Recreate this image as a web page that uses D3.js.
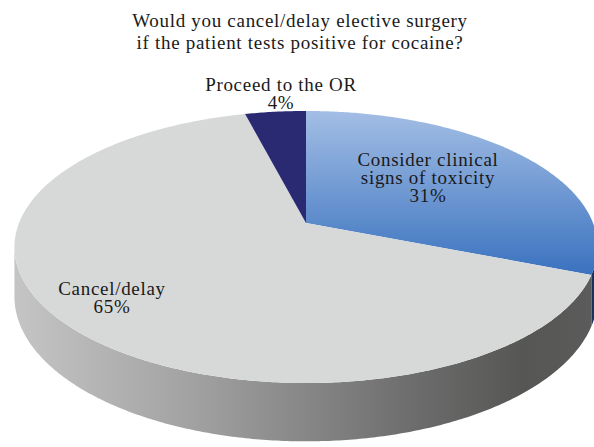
<!DOCTYPE html>
<html>
<head>
<meta charset="utf-8">
<script src="https://cdn.jsdelivr.net/npm/d3@7"></script>
<style>
  body { margin: 0; background: #fff; }
  text { font-family: "Liberation Serif", "DejaVu Serif", serif; fill: #1a1a1a; }
</style>
</head>
<body>
<svg id="chart"></svg>
<script>
// data
var categories = ['Consider clinical signs of toxicity', 'Cancel/delay', 'Proceed to the OR'];
var values = [31, 65, 4];
var labelLines = [
    ['Consider clinical', 'signs of toxicity', '31%'],
    ['Cancel/delay', '65%'],
    ['Proceed to the OR', '4%']
];
var titleLines = ['Would you cancel/delay elective surgery', 'if the patient tests positive for cocaine?'];

var W = 594, H = 447;
// pie centre on screen, half-axes and perspective strength
var cx = 306, cy = 223, A = 287, B = 131.8, k = 0.1765, depth = 48;

var svg = d3.select('#chart').attr('width', W).attr('height', H);
var defs = svg.append('defs');

var blueGrad = defs.append('linearGradient').attr('id', 'blueGrad')
    .attr('x1', 0).attr('y1', 0).attr('x2', 0).attr('y2', 1);
blueGrad.append('stop').attr('offset', '0%').attr('stop-color', '#a3bee5');
blueGrad.append('stop').attr('offset', '100%').attr('stop-color', '#3a72bf');

var sideGrad = defs.append('linearGradient').attr('id', 'sideGrad')
    .attr('gradientUnits', 'userSpaceOnUse')
    .attr('x1', cx - A).attr('y1', 0).attr('x2', cx + A).attr('y2', 0);
sideGrad.append('stop').attr('offset', '0%').attr('stop-color', '#c4c4c4');
sideGrad.append('stop').attr('offset', '30%').attr('stop-color', '#a2a2a2');
sideGrad.append('stop').attr('offset', '70%').attr('stop-color', '#6b6b6b');
sideGrad.append('stop').attr('offset', '88%').attr('stop-color', '#565654');
sideGrad.append('stop').attr('offset', '100%').attr('stop-color', '#5b5b5b');

var topColors = ['url(#blueGrad)', '#d7d9d9', '#2a2a72'];
var sideColors = ['#17335f', 'url(#sideGrad)', '#1c1c50'];

var pie = d3.pie().sort(null).value(function(d) { return d; })
    .startAngle(0).endAngle(2 * Math.PI);
var arcs = pie(values);

// angle measured clockwise from the top; simple perspective (back is smaller)
function pt(a, down) {
    var u = Math.sin(a), v = -Math.cos(a);
    var f = 1 / (1 - k * v);
    return [cx + A * u * f, cy + B * v * f + (down ? depth * f : 0)];
}

function edgePts(a0, a1, down) {
    var n = Math.max(2, Math.ceil((a1 - a0) / 0.01));
    return d3.range(n + 1).map(function(i) { return pt(a0 + (a1 - a0) * i / n, down); });
}

// angles of the left / right silhouette
var samples = d3.range(0, 2 * Math.PI, 0.002);
var aRight = samples[d3.maxIndex(samples, function(a) { return pt(a)[0]; })];
var aLeft = samples[d3.minIndex(samples, function(a) { return pt(a)[0]; })];

var line = d3.line();

// side walls, only the front part that faces the viewer
var sideG = svg.append('g').attr('class', 'sides');
arcs.forEach(function(d, i) {
    var a0 = Math.max(d.startAngle, aRight);
    var a1 = Math.min(d.endAngle, aLeft);
    if (a1 <= a0) return;
    var topEdge = edgePts(a0, a1, false);
    var botEdge = edgePts(a0, a1, true).reverse();
    sideG.append('path')
        .attr('d', line(topEdge.concat(botEdge)) + 'Z')
        .attr('fill', sideColors[i]);
});

// top faces
var topG = svg.append('g').attr('class', 'tops');
arcs.forEach(function(d, i) {
    var edge = edgePts(d.startAngle, d.endAngle, false);
    topG.append('path')
        .attr('d', line([[cx, cy]].concat(edge)) + 'Z')
        .attr('fill', topColors[i]);
});

// title
svg.append('g').attr('class', 'title')
    .selectAll('text').data(titleLines).enter()
    .append('text')
    .attr('x', 300)
    .attr('y', function(d, i) { return 27 + i * 22; })
    .attr('text-anchor', 'middle')
    .attr('font-size', '19px')
    .attr('letter-spacing', '0.7px')
    .text(function(d) { return d; });

// labels
var labelPos = [{x: 428, y: 166}, {x: 112, y: 295}, {x: 281, y: 91}];
var labG = svg.append('g').attr('class', 'labels');
labelLines.forEach(function(lines, i) {
    labG.append('g').selectAll('text').data(lines).enter()
        .append('text')
        .attr('x', labelPos[i].x)
        .attr('y', function(d, j) { return labelPos[i].y + j * 18; })
        .attr('text-anchor', 'middle')
        .attr('font-size', '19px')
        .attr('letter-spacing', '0.7px')
        .text(function(d) { return d; });
});
</script>
</body>
</html>
